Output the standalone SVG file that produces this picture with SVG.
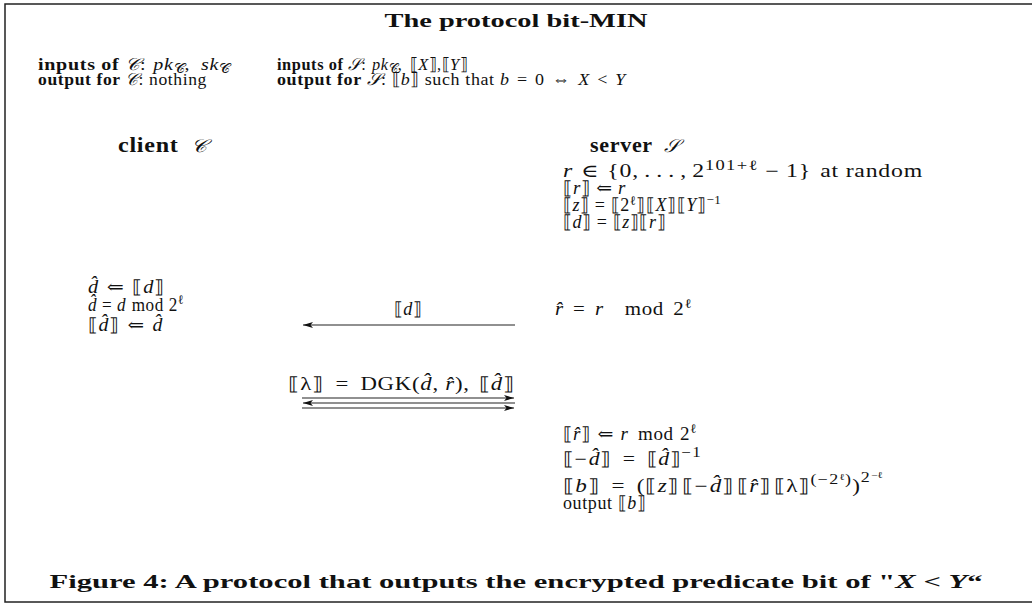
<svg xmlns="http://www.w3.org/2000/svg" width="1032" height="606" viewBox="0 0 1032 606">
<style>
.t{font-family:"Liberation Serif","DejaVu Serif",serif;font-size:18px;letter-spacing:0.6px;fill:#111}
.m{font-size:17px}
.b{font-weight:bold}
.i{font-style:italic}
.s{font-size:13px;letter-spacing:0.3px}
.sp{font-size:14px;letter-spacing:1px}
.ss{font-size:9px;letter-spacing:0}
.cap{font-size:19px;font-weight:bold;letter-spacing:0}
.ln{stroke:#222;stroke-width:1.2;fill:none}
</style>
<defs>
<marker id="ah" viewBox="0 0 10 6" refX="10" refY="3" markerWidth="10" markerHeight="6" orient="auto" markerUnits="userSpaceOnUse">
<path d="M0,0 L10,3 L0,6 L2.5,3 z" fill="#111"/>
</marker>
</defs>
<rect x="5" y="4" width="1040" height="598" fill="#fff" stroke="#222" stroke-width="1.5"/>

<g id="title"><text class="t cap" x="516" y="27" text-anchor="middle" textLength="263" lengthAdjust="spacingAndGlyphs">The protocol bit-MIN</text></g>

<g id="client-io">
<text class="t m" x="38" y="70" textLength="192" lengthAdjust="spacingAndGlyphs"><tspan class="b">inputs of </tspan><tspan class="i">𝒞</tspan>:<tspan dx="6" class="i">pk</tspan><tspan class="s" dy="3">𝒞</tspan><tspan dy="-3">,</tspan><tspan dx="9" class="i">sk</tspan><tspan class="s" dy="3">𝒞</tspan></text>
<text class="t m" x="38" y="85" textLength="169" lengthAdjust="spacingAndGlyphs"><tspan class="b">output for </tspan><tspan class="i">𝒞</tspan>: nothing</text>
</g>

<g id="server-io">
<text class="t m" x="277" y="70" textLength="191" lengthAdjust="spacingAndGlyphs"><tspan class="b">inputs of </tspan><tspan class="i">𝒮</tspan>:<tspan dx="6" class="i">pk</tspan><tspan class="s" dy="3">𝒞</tspan><tspan dy="-3">,</tspan><tspan dx="8">⟦</tspan><tspan class="i">X</tspan>⟧,⟦<tspan class="i">Y</tspan>⟧</text>
<text class="t m" x="277" y="85" textLength="349" lengthAdjust="spacingAndGlyphs"><tspan class="b">output for </tspan><tspan class="i">𝒮</tspan>: ⟦<tspan class="i">b</tspan>⟧ such that <tspan class="i">b</tspan><tspan dx="7">=</tspan><tspan dx="7">0</tspan><tspan dx="7">⇔</tspan><tspan dx="7" class="i">X</tspan><tspan dx="7">&lt;</tspan><tspan dx="7" class="i">Y</tspan></text>
</g>

<g id="client"><text class="t" x="118" y="152" textLength="89" lengthAdjust="spacingAndGlyphs"><tspan class="b" font-size="20">client</tspan><tspan dx="10" class="i">𝒞</tspan></text></g>
<g id="server"><text class="t" x="590" y="152" textLength="90" lengthAdjust="spacingAndGlyphs"><tspan class="b" font-size="20">server</tspan><tspan dx="10" class="i">𝒮</tspan></text></g>

<g id="server-setup">
<text class="t" x="563" y="177" textLength="360" lengthAdjust="spacingAndGlyphs"><tspan class="i">r</tspan><tspan dx="6">∈</tspan><tspan dx="6">{0,</tspan><tspan dx="4">.</tspan><tspan dx="4">.</tspan><tspan dx="4">.</tspan><tspan dx="4">,</tspan><tspan dx="4">2</tspan><tspan class="sp" dy="-7">101+ℓ</tspan><tspan dx="5" dy="7">−</tspan><tspan dx="5">1}</tspan><tspan dx="7">at random</tspan></text>
<text class="t" x="563" y="194" textLength="63" lengthAdjust="spacingAndGlyphs">⟦<tspan class="i">r</tspan>⟧<tspan dx="5">⇐</tspan><tspan dx="5" class="i">r</tspan></text>
<text class="t" x="563" y="211">⟦<tspan class="i">z</tspan>⟧<tspan dx="5">=</tspan><tspan dx="5">⟦2</tspan><tspan class="s" dy="-6">ℓ</tspan><tspan dy="6">⟧⟦</tspan><tspan class="i">X</tspan>⟧⟦<tspan class="i">Y</tspan>⟧<tspan class="s" dy="-7">−1</tspan></text>
<text class="t" x="563" y="228">⟦<tspan class="i">d</tspan>⟧<tspan dx="5">=</tspan><tspan dx="5">⟦</tspan><tspan class="i">z</tspan>⟧⟦<tspan class="i">r</tspan>⟧</text>
</g>

<g id="client-step">
<text class="t" x="88" y="293" textLength="77" lengthAdjust="spacingAndGlyphs"><tspan class="i">d̂</tspan><tspan dx="7">⇐</tspan><tspan dx="7">⟦</tspan><tspan class="i">d</tspan>⟧</text>
<text class="t" x="88" y="311" textLength="96" lengthAdjust="spacingAndGlyphs"><tspan class="i">d̂</tspan><tspan dx="5">=</tspan><tspan dx="5" class="i">d</tspan><tspan dx="6">mod</tspan><tspan dx="5">2</tspan><tspan class="s" dy="-7">ℓ</tspan></text>
<text class="t" x="88" y="331" textLength="75" lengthAdjust="spacingAndGlyphs">⟦<tspan class="i">d̂</tspan>⟧<tspan dx="7">⇐</tspan><tspan dx="7" class="i">d̂</tspan></text>
</g>

<g id="server-mod">
<text class="t" x="555" y="315" textLength="137" lengthAdjust="spacingAndGlyphs"><tspan class="i">r̂</tspan><tspan dx="8">=</tspan><tspan dx="8" class="i">r</tspan><tspan dx="18">mod</tspan><tspan dx="8">2</tspan><tspan class="s" dy="-7">ℓ</tspan></text>
</g>

<g id="connectors">
<line class="ln" x1="515" y1="325" x2="303" y2="325" marker-end="url(#ah)"/>
<text class="t" x="408" y="315" text-anchor="middle">⟦<tspan class="i">d</tspan>⟧</text>
<line class="ln" x1="302" y1="398" x2="514" y2="398" marker-end="url(#ah)"/>
<line class="ln" x1="515" y1="403" x2="303" y2="403" marker-end="url(#ah)"/>
<line class="ln" x1="302" y1="408" x2="514" y2="408" marker-end="url(#ah)"/>
<text class="t" x="288" y="390" textLength="227" lengthAdjust="spacingAndGlyphs">⟦λ⟧<tspan dx="9">=</tspan><tspan dx="9">DGK(</tspan><tspan class="i">d̂</tspan>,<tspan dx="5" class="i">r̂</tspan>),<tspan dx="7">⟦</tspan><tspan class="i">d̂</tspan>⟧</text>
</g>

<g id="server-final">
<text class="t" x="563" y="440" textLength="134" lengthAdjust="spacingAndGlyphs">⟦<tspan class="i">r̂</tspan>⟧<tspan dx="6">⇐</tspan><tspan dx="6" class="i">r</tspan><tspan dx="9">mod</tspan><tspan dx="6">2</tspan><tspan class="s" dy="-7">ℓ</tspan></text>
<text class="t" x="563" y="465" textLength="139" lengthAdjust="spacingAndGlyphs">⟦−<tspan dx="1" class="i">d̂</tspan>⟧<tspan dx="9">=</tspan><tspan dx="9">⟦</tspan><tspan class="i">d̂</tspan>⟧<tspan class="sp" dy="-8">−1</tspan></text>
<text class="t" x="563" y="492" textLength="320" lengthAdjust="spacingAndGlyphs">⟦<tspan class="i">b</tspan>⟧<tspan dx="9">=</tspan><tspan dx="9">(⟦</tspan><tspan class="i">z</tspan>⟧<tspan dx="2">⟦−</tspan><tspan dx="1" class="i">d̂</tspan>⟧<tspan dx="2">⟦</tspan><tspan class="i">r̂</tspan>⟧<tspan dx="2">⟦λ⟧</tspan><tspan class="sp" dy="-8">(−2</tspan><tspan class="ss" dy="-4">ℓ</tspan><tspan class="sp" dy="4">)</tspan><tspan dy="8">)</tspan><tspan class="sp" dy="-10">2</tspan><tspan class="ss" dy="-4">−ℓ</tspan></text>
<text class="t" x="563" y="509">output<tspan dx="5">⟦</tspan><tspan class="i">b</tspan>⟧</text>
</g>

<g id="caption"><text class="t cap" x="516" y="588" text-anchor="middle" textLength="933" lengthAdjust="spacingAndGlyphs">Figure 4: A protocol that outputs the encrypted predicate bit of "<tspan class="i">X</tspan> &lt; <tspan class="i">Y</tspan>“</text></g>
</svg>
